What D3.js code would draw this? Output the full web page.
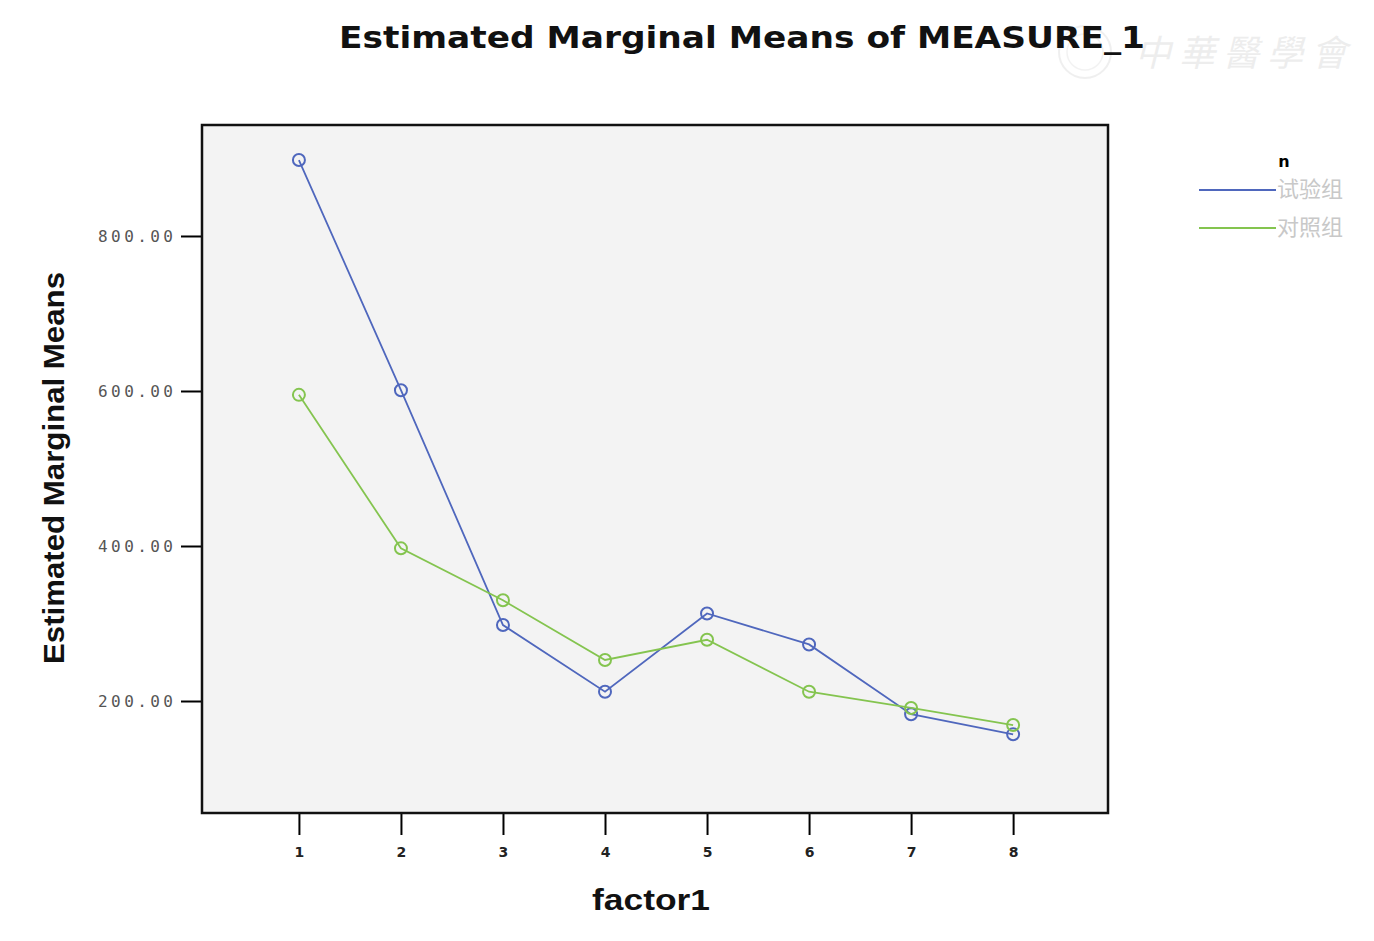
<!DOCTYPE html>
<html>
<head>
<meta charset="utf-8">
<script src="https://cdn.jsdelivr.net/npm/d3@7"></script>
<style>
html,body{margin:0;padding:0;background:#fff;}
svg{display:block;}
</style>
</head>
<body>
<svg id="chart" width="1374" height="941"></svg>
<script>
const categories = [1, 2, 3, 4, 5, 6, 7, 8];
const seriesNames = ["试验组", "对照组"];
const trialValues = [898, 601, 298, 212, 313, 273, 183, 157];
const controlValues = [595, 397, 330, 253, 279, 212, 191, 169];
const yTicks = [200, 400, 600, 800];
const seriesColors = ["#4f67bd", "#84c44f"];

const svg = d3.select("#chart");
const W = 1374, H = 941;
svg.append("rect").attr("width", W).attr("height", H).attr("fill", "#fff");

const frame = {left: 202, right: 1108, top: 125, bottom: 813};

const x = d3.scaleLinear().domain([0.05, 8.93]).range([frame.left, frame.right]);
const y = d3.scaleLinear().domain([55.5, 943.2]).range([frame.bottom, frame.top]);

// watermark
const wm = svg.append("g").attr("opacity", 0.45);
wm.append("circle").attr("cx", 1085).attr("cy", 52).attr("r", 26).attr("fill", "none").attr("stroke", "#ddd").attr("stroke-width", 2);
wm.append("circle").attr("cx", 1085).attr("cy", 52).attr("r", 18).attr("fill", "none").attr("stroke", "#e4e4e4").attr("stroke-width", 1.5);
wm.append("text").attr("x", 1135).attr("y", 66).attr("font-family", "Noto Sans CJK SC").attr("font-size", 36)
  .attr("font-style", "italic").attr("fill", "#d8d8d8").attr("letter-spacing", 8).text("中華醫學會");

// plot background
svg.append("rect").attr("x", frame.left).attr("y", frame.top)
  .attr("width", frame.right - frame.left).attr("height", frame.bottom - frame.top)
  .attr("fill", "#f3f3f3");

// title
svg.append("text").attr("x", 742).attr("y", 48).attr("text-anchor", "middle")
  .attr("font-family", "DejaVu Sans, sans-serif").attr("font-size", 30).attr("font-weight", "bold")
  .attr("fill", "#111").attr("textLength", 806).attr("lengthAdjust", "spacingAndGlyphs")
  .text("Estimated Marginal Means of MEASURE_1");

// y axis
const yAxis = d3.axisLeft(y).tickValues(yTicks).tickSize(21).tickPadding(8).tickFormat(d3.format(".2f"));
const gy = svg.append("g").attr("transform", `translate(${frame.left},0)`).call(yAxis);
gy.select(".domain").remove();
gy.selectAll(".tick line").attr("stroke", "#000").attr("stroke-width", 2);
gy.selectAll(".tick text").attr("font-family", "DejaVu Sans Mono, monospace").attr("font-size", 16)
  .attr("fill", "#555").attr("textLength", 75).attr("lengthAdjust", "spacing");

// x axis
const xAxis = d3.axisBottom(x).tickValues(categories).tickSize(22).tickPadding(12).tickFormat(d3.format("d"));
const gx = svg.append("g").attr("transform", `translate(0,${frame.bottom})`).call(xAxis);
gx.select(".domain").remove();
gx.selectAll(".tick line").attr("stroke", "#000").attr("stroke-width", 2);
gx.selectAll(".tick text").attr("font-family", "DejaVu Sans, sans-serif").attr("font-size", 14)
  .attr("font-weight", "bold").attr("fill", "#222");

// axis titles
svg.append("text").attr("transform", "translate(64,468) rotate(-90)").attr("text-anchor", "middle")
  .attr("font-family", "Liberation Sans Narrow, Liberation Sans, sans-serif").attr("font-size", 30)
  .attr("font-weight", "bold").attr("fill", "#111").attr("textLength", 392).attr("lengthAdjust", "spacingAndGlyphs")
  .text("Estimated Marginal Means");
svg.append("text").attr("x", 651).attr("y", 910).attr("text-anchor", "middle")
  .attr("font-family", "Liberation Sans Narrow, Liberation Sans, sans-serif").attr("font-size", 30)
  .attr("font-weight", "bold").attr("fill", "#111").attr("textLength", 118).attr("lengthAdjust", "spacingAndGlyphs")
  .text("factor1");

// series
const series = [
  {name: seriesNames[0], values: trialValues, color: seriesColors[0]},
  {name: seriesNames[1], values: controlValues, color: seriesColors[1]}
];
const line = d3.line().x((d, i) => x(categories[i])).y(d => y(d));
const plot = svg.append("g");
series.forEach(s => {
  plot.append("path").datum(s.values).attr("d", line).attr("fill", "none")
    .attr("stroke", s.color).attr("stroke-width", 1.8);
  plot.selectAll(null).data(s.values).enter().append("circle")
    .attr("cx", (d, i) => x(categories[i])).attr("cy", d => y(d)).attr("r", 6)
    .attr("fill", "none").attr("stroke", s.color).attr("stroke-width", 2);
});

// frame
svg.append("rect").attr("x", frame.left).attr("y", frame.top)
  .attr("width", frame.right - frame.left).attr("height", frame.bottom - frame.top)
  .attr("fill", "none").attr("stroke", "#111").attr("stroke-width", 2.5);

// legend
const lg = svg.append("g");
lg.append("text").attr("x", 1284).attr("y", 167).attr("text-anchor", "middle")
  .attr("font-family", "DejaVu Sans, sans-serif").attr("font-size", 16).attr("font-weight", "bold")
  .attr("fill", "#000").text("n");
series.forEach((s, i) => {
  const ly = 190 + i * 38;
  lg.append("line").attr("x1", 1199).attr("x2", 1276).attr("y1", ly).attr("y2", ly)
    .attr("stroke", s.color).attr("stroke-width", 2);
  lg.append("text").attr("x", 1277).attr("y", ly + 7)
    .attr("font-family", "Noto Sans CJK SC").attr("font-size", 22).attr("fill", "#c8c8c8")
    .text(s.name);
});
</script>
</body>
</html>
